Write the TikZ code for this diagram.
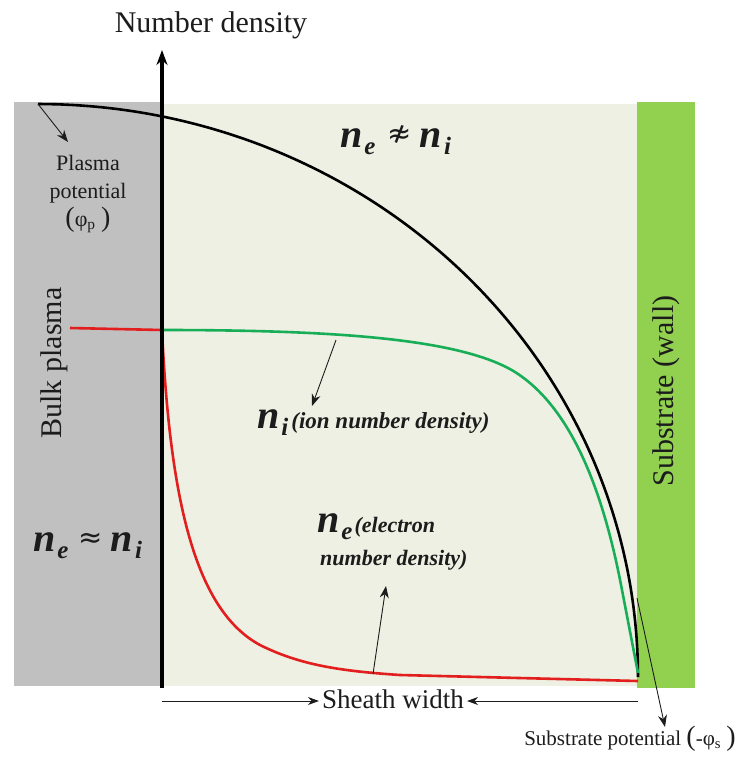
\documentclass[tikz,border=0pt]{standalone}
\usepackage{fontspec}
\setmainfont{Liberation Serif}
\newfontfamily\symfont{DejaVu Sans}
\usepackage{tikz}
\usetikzlibrary{arrows.meta,positioning,calc}
\definecolor{bulkgray}{RGB}{192,192,192}
\definecolor{sheathbg}{RGB}{237,240,226}
\definecolor{wallgreen}{RGB}{146,208,80}
\definecolor{nered}{RGB}{226,30,30}
\definecolor{nigreen}{RGB}{24,174,88}
\definecolor{ink}{RGB}{28,28,28}
% bold italic density symbol with a lowered index
\newcommand{\dens}[1]{{\fontsize{40}{40}\selectfont\bfseries\itshape n\kern2pt\raisebox{-7pt}{\fontsize{25}{25}\selectfont #1}}}
\newcommand{\bigpar}[1]{{\fontsize{28}{28}\selectfont #1}}
\newcommand{\rel}[1]{{\fontsize{29}{29}\selectfont\symfont\raisebox{4pt}{#1}}}
\tikzset{
  lbl/.style={font=\fontsize{30}{34}\selectfont,text=ink,inner sep=0pt},
  smalllbl/.style={font=\fontsize{22}{28}\selectfont,text=ink,inner sep=0pt},
  denslbl/.style={text=ink,inner sep=0pt,anchor=base west},
  note/.style={font=\fontsize{22}{22}\selectfont\bfseries\itshape},
  curve/.style={line width=2.6pt},
  ptr/.style={-{Stealth[length=12pt,width=9pt]},draw=ink,line width=0.9pt},
  axisline/.style={-{Stealth[length=15pt,width=11pt]},line width=3.5pt}
}

\begin{document}
\begin{tikzpicture}[x=1pt,y=-1pt]
  \useasboundingbox (0,0) rectangle (750,758);
  % regions
  \fill[bulkgray] (14,102) rectangle (162,686);
  \fill[sheathbg] (162,104) rectangle (637,686);
  \fill[wallgreen] (637,102) rectangle (695,688);

  \coordinate (pstart) at (38,104);
  \coordinate (axisfoot) at (162,688);
  \coordinate (axistop) at (162,50);
  \coordinate (edge) at (162,330);

  % density curves
  \draw[curve] plot[domain=-90:0,smooth,samples=50] ({38+600*cos(\x)},{677+573*sin(\x)});
  \draw[curve,nigreen] (edge) .. controls (330,330) and (460,338) .. (515,372)
    .. controls (575,410) and (605,500) .. (622,590) -- (638,673);
  \draw[curve,nered] (70,328) -- (edge) .. controls (170,500) and (195,610) .. (260,645)
    .. controls (300,665) and (340,671) .. (400,675) -- (638,681);

  % axis
  \draw[axisline] (axisfoot) -- (axistop);
  \node[lbl,anchor=base] (ylab) at (211,32) {Number density};

  % labels
  \node[lbl,rotate=90] (bulk) at (54,363) {Bulk plasma};
  \node[lbl,rotate=90] (wall) at (666,391) {Substrate (wall)};
  \node[smalllbl,align=center,anchor=north] (ppot) at (88,155)
    {Plasma\\potential\\\bigpar{(}φ\textsubscript{p} \bigpar{)}};
  \node[denslbl] (neqni) at (33,551) {\dens{e}\hspace{10pt}\rel{≈}\hspace{8pt}\dens{i}};
  \node[denslbl] (nneqni) at (340,147) {\dens{e}\hspace{12pt}\rel{≉}\hspace{8pt}\dens{i}};
  \node[denslbl] (nilab) at (257,428) {\dens{i}\kern3pt{\fontsize{23}{23}\selectfont\bfseries\itshape (ion number density)}};
  \node[denslbl] (nelab) at (317,532) {\dens{e}\kern2pt{\fontsize{22}{22}\selectfont\bfseries\itshape (electron}};
  \node[denslbl,note] (nelab2) at (320,565) {number density)};
  \node[smalllbl,font=\fontsize{21}{21}\selectfont,anchor=base] (spot) at (630,745)
    {Substrate potential \bigpar{(}-φ\textsubscript{s} \bigpar{)}};
  \node[lbl,font=\fontsize{27}{30}\selectfont,anchor=base,inner xsep=3pt] (sheath) at (393,708) {Sheath width};

  % pointers
  \coordinate (pptip) at (68,142);
  \coordinate (nifrom) at (336,340);
  \coordinate (nitip) at (312,406);
  \coordinate (nefrom) at (373,674);
  \coordinate (netip) at (386,586);
  \coordinate (spfrom) at (637,598);
  \coordinate (sptip) at (665,727);
  \coordinate (swl) at (162,701);
  \coordinate (swr) at (638,701);
  \draw[ptr] (pstart) -- (pptip);
  \draw[ptr] (nifrom) -- (nitip);
  \draw[ptr] (nefrom) -- (netip);
  \draw[ptr] (spfrom) -- (sptip);
  \draw[ptr,-{Stealth[length=11pt,width=8pt]}] (swl) -- (swl -| sheath.west);
  \draw[ptr,-{Stealth[length=11pt,width=8pt]}] (swr) -- (swr -| sheath.east);
\end{tikzpicture}
\end{document}
